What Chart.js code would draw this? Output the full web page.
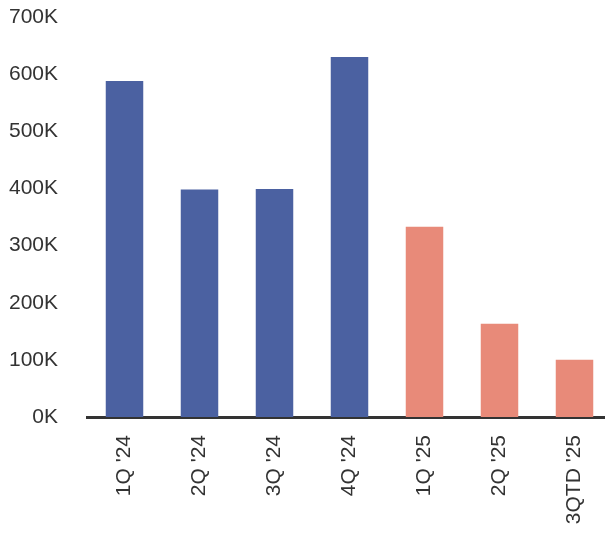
<!DOCTYPE html>
<html>
<head>
<meta charset="utf-8">
<script src="https://cdn.jsdelivr.net/npm/chart.js@4"></script>
<style>
  html, body { margin: 0; padding: 0; background: #fff; overflow: hidden; }
  #wrap { width: 620px; height: 534px; }
</style>
</head>
<body>
<div id="wrap"><canvas id="chart" width="620" height="534"></canvas></div>
<script>
// dados
const quarters = ["1Q '24", "2Q '24", "3Q '24", "4Q '24", "1Q '25", "2Q '25", "3QTD '25"];
const values = [588000, 398000, 399000, 630000, 333000, 163000, 100000];
const yTicks = [0, 100000, 200000, 300000, 400000, 500000, 600000, 700000];

const BLUE = '#4B61A1';
const SALMON = '#E88A79';

document.addEventListener('DOMContentLoaded', function () {
    const ctx = document.getElementById('chart').getContext('2d');
    new Chart(ctx, {
        type: 'bar',
        data: {
            labels: quarters,
            datasets: [{
                data: values,
                // 2024 em azul, 2025 em salmao
                backgroundColor: c => quarters[c.dataIndex].endsWith("'24") ? BLUE : SALMON,
                borderWidth: 0,
                barPercentage: 0.5,
                categoryPercentage: 1.0,
            }],
        },
        options: {
            responsive: false,
            animation: false,
            layout: { padding: { top: 17, right: 8, bottom: 0, left: 0 } },
            plugins: {
                legend: { display: false },
                tooltip: { enabled: false },
            },
            scales: {
                x: {
                    grid: { display: false, drawTicks: false },
                    border: { display: true, color: '#333333', width: 3 },
                    ticks: {
                        color: '#333333',
                        font: { family: 'Liberation Sans, Arial, sans-serif', size: 21 },
                        minRotation: 90,
                        maxRotation: 90,
                        padding: 18,
                        autoSkip: false,
                    },
                    afterFit: s => {
                        s.height = 117;
                        s.paddingTop = 0; s.paddingBottom = 0;
                        s.paddingLeft = 0; s.paddingRight = 0;
                    },
                },
                y: {
                    min: yTicks[0],
                    max: yTicks[yTicks.length - 1],
                    grid: { display: false, drawTicks: false },
                    border: { display: false },
                    afterBuildTicks: s => { s.ticks = yTicks.map(v => ({ value: v })); },
                    ticks: {
                        color: '#333333',
                        font: { family: 'Liberation Sans, Arial, sans-serif', size: 21 },
                        padding: 29,
                        callback: v => (v / 1000) + 'K',
                    },
                    afterFit: s => {
                        s.width = 87;
                        s.paddingTop = 0; s.paddingBottom = 0;
                    },
                },
            },
        },
    });
});
</script>
</body>
</html>
